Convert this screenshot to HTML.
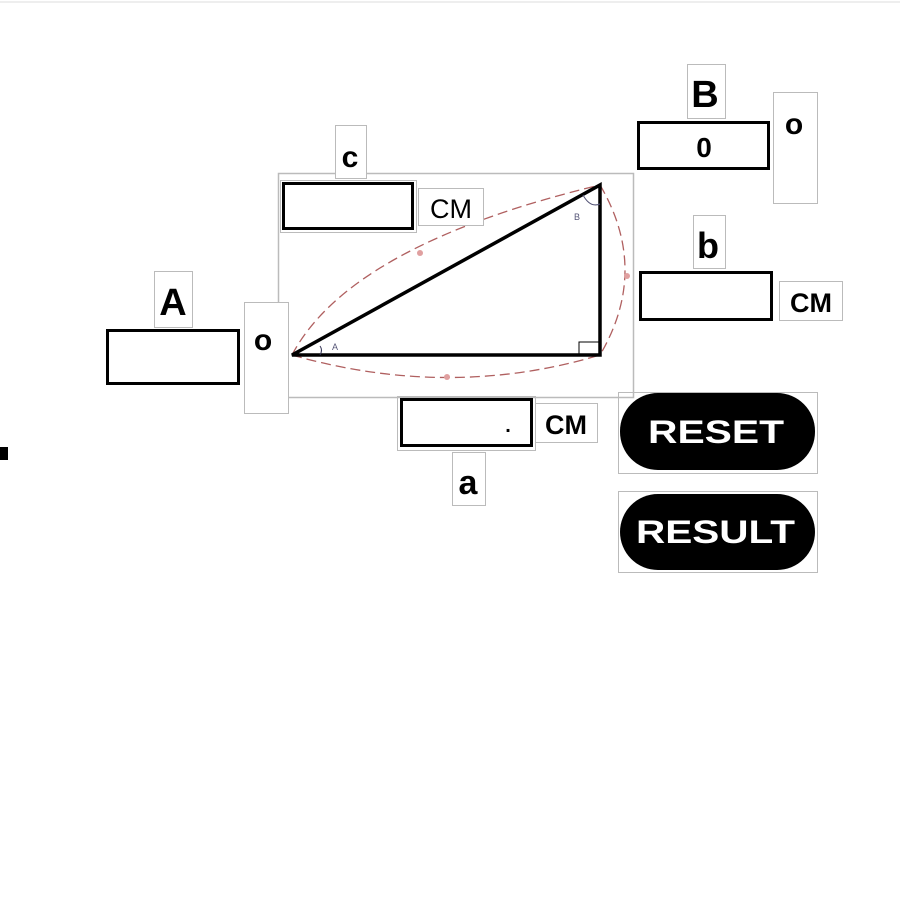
<!DOCTYPE html>
<html><head><style>
html,body{margin:0;padding:0;background:#fff;width:900px;height:900px;overflow:hidden}
svg text{font-family:"Liberation Sans",sans-serif;font-weight:bold}
</style></head><body>
<svg width="900" height="900" viewBox="0 0 900 900" xmlns="http://www.w3.org/2000/svg">
<line x1="0" y1="2" x2="900" y2="2" stroke="#eee" stroke-width="2"/>
<rect x="0" y="447" width="8" height="13" fill="#000"/>
<rect x="278.5" y="173.5" width="355" height="224" fill="none" stroke="#bbb" stroke-width="1.5"/>
<g fill="none" stroke="#b06060" stroke-width="1.3" stroke-dasharray="10,5">
<path d="M292,355 Q350,245 600,185"/>
<path d="M292,355 Q450,400 600,355"/>
<path d="M600,185 Q650,270 600,355"/>
</g>
<circle cx="420" cy="253" r="3" fill="#e0a0a0"/>
<circle cx="447" cy="377" r="3" fill="#e0a0a0"/>
<circle cx="627" cy="276" r="3" fill="#e0a0a0"/>
<polygon points="292,355 600,185 600,355" fill="none" stroke="#000" stroke-width="3.5"/>
<rect x="579" y="342" width="21" height="13" fill="none" stroke="#000" stroke-width="1"/>
<path d="M320,346 Q323,350 320,355" fill="none" stroke="#335" stroke-width="1"/>
<text x="332" y="350" font-size="9" fill="#557" style="font-weight:normal">A</text>
<path d="M583,195 Q590,208 600,204" fill="none" stroke="#557" stroke-width="1"/>
<text x="574" y="220" font-size="9" fill="#557" style="font-weight:normal">B</text>
<rect x="335.5" y="125.5" width="31" height="53" fill="#fff" stroke="#bbb"/>
<text x="350" y="167" font-size="30" text-anchor="middle">c</text>
<rect x="280.5" y="180.5" width="136" height="52" fill="none" stroke="#bbb"/>
<rect x="283.5" y="183.5" width="129" height="45" fill="#fff" stroke="#000" stroke-width="3"/>
<rect x="418.5" y="188.5" width="65" height="37" fill="#fff" stroke="#bbb"/>
<text x="451" y="218" font-size="27" text-anchor="middle" style="font-weight:normal">CM</text>
<rect x="154.5" y="271.5" width="38" height="56" fill="#fff" stroke="#bbb"/>
<text x="173" y="315" font-size="38" text-anchor="middle">A</text>
<rect x="107.5" y="330.5" width="131" height="53" fill="#fff" stroke="#000" stroke-width="3"/>
<rect x="244.5" y="302.5" width="44" height="111" fill="#fff" stroke="#bbb"/>
<text x="263" y="350" font-size="30" text-anchor="middle">o</text>
<rect x="397.5" y="396.5" width="138" height="54" fill="none" stroke="#bbb"/>
<rect x="401.5" y="399.5" width="130" height="46" fill="#fff" stroke="#000" stroke-width="3"/>
<text x="508" y="432" font-size="20" text-anchor="middle">.</text>
<rect x="535.5" y="403.5" width="62" height="39" fill="#fff" stroke="#bbb"/>
<text x="566" y="434" font-size="27" text-anchor="middle">CM</text>
<rect x="452.5" y="452.5" width="33" height="53" fill="#fff" stroke="#bbb"/>
<text x="468" y="494" font-size="34" text-anchor="middle">a</text>
<rect x="687.5" y="64.5" width="38" height="54" fill="#fff" stroke="#bbb"/>
<text x="705" y="107" font-size="38" text-anchor="middle">B</text>
<rect x="638.5" y="122.5" width="130" height="46" fill="#fff" stroke="#000" stroke-width="3"/>
<text x="704" y="157" font-size="28" text-anchor="middle">0</text>
<rect x="773.5" y="92.5" width="44" height="111" fill="#fff" stroke="#bbb"/>
<text x="794" y="134" font-size="30" text-anchor="middle">o</text>
<rect x="693.5" y="215.5" width="32" height="53" fill="#fff" stroke="#bbb"/>
<text x="708" y="258" font-size="36" text-anchor="middle">b</text>
<rect x="640.5" y="272.5" width="131" height="47" fill="#fff" stroke="#000" stroke-width="3"/>
<rect x="779.5" y="281.5" width="63" height="39" fill="#fff" stroke="#bbb"/>
<text x="811" y="312" font-size="27" text-anchor="middle">CM</text>
<rect x="618.5" y="392.5" width="199" height="81" fill="none" stroke="#bbb"/>
<rect x="620" y="393" width="195" height="77" rx="38" fill="#000"/>
<text x="648" y="443" font-size="32" fill="#fff" textLength="136" lengthAdjust="spacingAndGlyphs">RESET</text>
<rect x="618.5" y="491.5" width="199" height="81" fill="none" stroke="#bbb"/>
<rect x="620" y="494" width="195" height="76" rx="38" fill="#000"/>
<text x="636" y="543" font-size="32" fill="#fff" textLength="159" lengthAdjust="spacingAndGlyphs">RESULT</text>
</svg>
</body></html>
